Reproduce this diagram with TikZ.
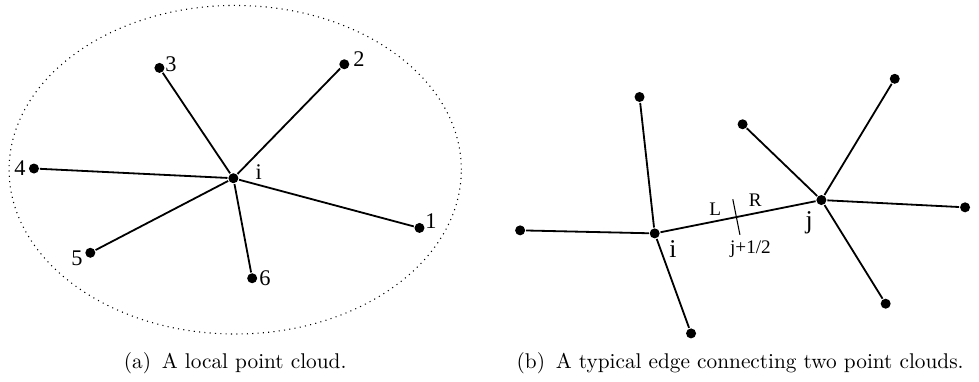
\documentclass[tikz,border=0pt]{standalone}
\usepackage{fontspec}
\newfontfamily\lbfont{Liberation Serif}
\usetikzlibrary{calc}
\tikzset{
  every picture/.style={line width=0.85pt},
  dot/.style={circle, fill=black, inner sep=0pt, minimum size=1.65mm},
  lbl/.style={font=\lbfont\fontsize{10.5}{12}\selectfont, inner sep=0pt},
  biglbl/.style={font=\lbfont\fontsize{12}{14}\selectfont, inner sep=0pt},
  smalllbl/.style={font=\lbfont\fontsize{9}{11}\selectfont, inner sep=0pt},
  capt/.style={font=\normalsize, inner sep=0pt},
}

\begin{document}
\begin{tikzpicture}
  \useasboundingbox (0,0) rectangle (16.15,6.29);
  % (a) local point cloud
  \begin{scope}
    \draw[dotted, line width=0.5pt] (3.88,3.49) ellipse [x radius=3.73, y radius=2.71];
    \node[dot] (i) at (3.85,3.35) {};
    \node[dot] (p1) at (6.92,2.53) {};
    \node[dot] (p2) at (5.68,5.23) {};
    \node[dot] (p3) at (2.63,5.17) {};
    \node[dot] (p4) at (0.56,3.51) {};
    \node[dot] (p5) at (1.49,2.12) {};
    \node[dot] (p6) at (4.16,1.70) {};
    \foreach \k in {1,...,6}
      \draw (i) -- (p\k);
    \node[lbl] (li) at (4.27,3.45) {i};
    \node[lbl] (l1) at (7.11,2.64) {1};
    \node[lbl] (l2) at (5.92,5.31) {2};
    \node[lbl] (l3) at (2.82,5.23) {3};
    \node[lbl] (l4) at (0.33,3.51) {4};
    \node[lbl] (l5) at (1.27,2.03) {5};
    \node[lbl] (l6) at (4.37,1.70) {6};
    \node[capt] (capa) at (3.88,0.30) {(a)\enspace A local point cloud.};
  \end{scope}
  % (b) edge between two clouds
  \begin{scope}
    \node[dot] (ci) at (10.80,2.44) {};
    \node[dot] (cj) at (13.55,2.99) {};
    \node[dot] (a1) at (10.55,4.69) {};
    \node[dot] (a2) at (8.58,2.49) {};
    \node[dot] (a3) at (11.40,0.79) {};
    \node[dot] (b1) at (12.25,4.24) {};
    \node[dot] (b2) at (14.76,4.99) {};
    \node[dot] (b3) at (15.92,2.87) {};
    \node[dot] (b4) at (14.61,1.28) {};
    \foreach \k in {1,2,3}
      \draw (ci) -- (a\k);
    \foreach \k in {1,...,4}
      \draw (cj) -- (b\k);
    \draw (ci) -- (cj);
    \coordinate (m) at ($(ci)!0.49!(cj)$);
    \coordinate (tA) at ($(m)!0.3cm!90:(cj)$);
    \coordinate (tB) at ($(m)!0.3cm!-90:(cj)$);
    \draw[line width=0.5pt] (tA) -- (tB);
    \node[smalllbl] (lL) at (11.80,2.84) {L};
    \node[smalllbl] (lR) at (12.46,2.99) {R};
    \node[smalllbl] (lh) at (12.38,2.18) {j+1/2};
    \node[biglbl] (lci) at (11.10,2.19) {i};
    \node[biglbl] (lcj) at (13.35,2.61) {j};
    \node[capt] (capb) at (12.21,0.30) {(b)\enspace A typical edge connecting two point clouds.};
  \end{scope}
\end{tikzpicture}
\end{document}
